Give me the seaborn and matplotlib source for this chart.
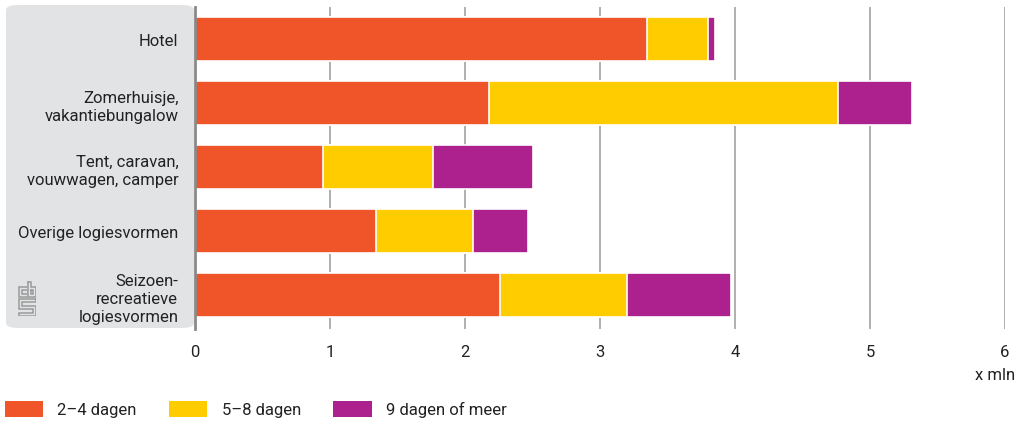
import numpy as np
import pandas as pd
import seaborn as sns
import matplotlib.pyplot as plt
from matplotlib.patches import FancyBboxPatch, Patch

categories = ['Hotel', 'Zomerhuisje,\nvakantiebungalow', 'Tent, caravan,\nvouwwagen, camper',
              'Overige logiesvormen', 'Seizoen-\nrecreatieve\nlogiesvormen']
series = ['2–4 dagen', '5–8 dagen', '9 dagen of meer']
dagen_2_4 = [3.35, 2.18, 0.95, 1.34, 2.26]
dagen_5_8 = [0.45, 2.58, 0.81, 0.72, 0.94]
dagen_9_plus = [0.05, 0.55, 0.74, 0.41, 0.77]
colors = ['#f05529', '#ffcc00', '#ac218e']

df = pd.DataFrame({'cat': categories, series[0]: dagen_2_4,
                   series[1]: dagen_5_8, series[2]: dagen_9_plus})
cum = df[series].cumsum(axis=1)

sns.set_style('white')
plt.rcParams['font.family'] = ['Roboto', 'DejaVu Sans']
fs = 12
txt_col = '#222222'

fig = plt.figure(figsize=(10.19, 4.27), dpi=100)

# grey label panel behind the category labels
panel = FancyBboxPatch((6 / 1019, 1 - 329 / 427), 188 / 1019, 323 / 427,
                       boxstyle='round,pad=0,rounding_size=0.012',
                       transform=fig.transFigure, facecolor='#e2e3e5',
                       edgecolor='none', zorder=-1)
fig.patches.append(panel)

ax = fig.add_axes([195 / 1019, 1 - 330 / 427, 810 / 1019, 322 / 427])
ax.patch.set_alpha(0)

# stacked bars: draw cumulative totals back to front
for s, c in zip(series[::-1], colors[::-1]):
    sns.barplot(x=cum[s], y=df['cat'], color=c, saturation=1, orient='h', width=0.70,
                edgecolor='white', linewidth=1.2, ax=ax, zorder=3)

ax.set_xlim(0, 6)
ax.set_ylim(4.53, -0.5)
ax.set_xticks(range(7))
ax.set_yticks(range(len(categories)))
ax.set_yticklabels(categories, multialignment='right', linespacing=1.25)
ax.xaxis.grid(True, color='#9a9a9a', linewidth=1.1, zorder=0)
ax.yaxis.grid(False)
for sp in ['top', 'right', 'bottom']:
    ax.spines[sp].set_visible(False)
ax.spines['left'].set_color('#8a8a8a')
ax.spines['left'].set_linewidth(2)
ax.spines['left'].set_zorder(5)
ax.set_xlabel('')
ax.set_ylabel('')
ax.tick_params(axis='x', length=0, pad=11, labelsize=fs, labelcolor=txt_col)
ax.tick_params(axis='y', length=0, pad=12, labelsize=fs, labelcolor=txt_col)

fig.text(1015 / 1019, 1 - 376 / 427, 'x mln', ha='right', va='center',
         fontsize=fs, color=txt_col)

# small cbs logo in the panel
lax = fig.add_axes([18 / 1019, 1 - 317 / 427, 18 / 1019, 35 / 427])
lax.set_xlim(-0.5, 17.5)
lax.set_ylim(34.5, -0.5)
lax.axis('off')
logo_col = '#9a9a9a'
shapes = [
    [(8, 5), (0, 5), (0, 15), (8, 15)],
    [(8, 8), (3, 8), (3, 12), (8, 12)],
    [(9, 0), (9, 15), (17, 15), (17, 5), (12, 5), (12, 0), (9, 0)],
    [(12, 8), (14, 8), (14, 12), (12, 12), (12, 8)],
    [(17, 17), (0, 17), (0, 27), (14, 27), (14, 31), (0, 31), (0, 34), (17, 34),
     (17, 24), (3, 24), (3, 20), (17, 20), (17, 17)],
]
for pts in shapes:
    xs, ys = zip(*pts)
    lax.plot(xs, ys, color=logo_col, linewidth=1.1, solid_joinstyle='miter')

handles = [Patch(facecolor=c, edgecolor='none') for c in colors]
fig.legend(handles, series, loc='center left', bbox_to_anchor=(0.003, 1 - 410 / 427),
           ncol=3, frameon=False, fontsize=fs, handlelength=2.3, handleheight=1.1,
           handletextpad=0.85, columnspacing=1.95, borderaxespad=0, borderpad=0.1,
           labelcolor=txt_col)

fig.savefig('out.png', dpi=100)
